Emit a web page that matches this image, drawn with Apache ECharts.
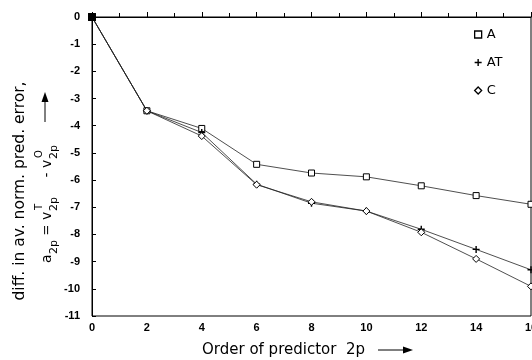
<!DOCTYPE html>
<html><head><meta charset="utf-8">
<script src="https://cdn.jsdelivr.net/npm/echarts@6/dist/echarts.min.js"></script>
<style>html,body{margin:0;padding:0;background:#fff}#c{width:532px;height:360px}</style>
</head><body><div id="c"></div>
<script>
var orders = [0, 2, 4, 6, 8, 10, 12, 14, 16];
var seriesA  = [0, -3.45, -4.10, -5.42, -5.74, -5.88, -6.21, -6.57, -6.89];
var seriesAT = [0, -3.45, -4.25, -6.15, -6.85, -7.14, -7.81, -8.55, -9.30];
var seriesC  = [0, -3.45, -4.38, -6.17, -6.80, -7.14, -7.92, -8.90, -9.91];
var names = ['A', 'AT', 'C'];
var xTicks = [0, 2, 4, 6, 8, 10, 12, 14, 16];
var yTicks = [0, -1, -2, -3, -4, -5, -6, -7, -8, -9, -10, -11];

var plusPath = 'path://M4,0H6V4H10V6H6V10H4V6H0V4H4Z';
function pts(vals) {
  return orders.map(function (o, i) {
    var p = {value: [o, vals[i]]};
    if (i === 0) { p.symbol = 'rect'; p.symbolSize = 7; p.itemStyle = {color: '#000', borderColor: '#000'}; }
    return p;
  });
}
var lineStyle = {color: '#222', width: 0.8};
var chart = echarts.init(document.getElementById('c'), null, {renderer: 'canvas'});
var F = '"DejaVu Sans", "Liberation Sans", sans-serif';
var tickFont = {color: '#000', fontSize: 11, fontWeight: 'bold', fontFamily: '"Liberation Sans", Arial, sans-serif'};

var yTitle = {
  type: 'group', x: 0, y: 360, rotation: Math.PI / 2, silent: true,
  children: [
    {type: 'text', x: 169, y: 20, style: {text: 'diff. in av. norm. pred. error,', font: '15.5px ' + F, fill: '#000', align: 'center', verticalAlign: 'middle'}},
    {type: 'text', x: 97, y: 47, style: {text: 'a', font: '14px ' + F, fill: '#000', align: 'left', verticalAlign: 'middle'}},
    {type: 'text', x: 106, y: 54, style: {text: '2p', font: '11px ' + F, fill: '#000', align: 'left', verticalAlign: 'middle'}},
    {type: 'text', x: 130, y: 47, style: {text: '=', font: '13px ' + F, fill: '#000', align: 'center', verticalAlign: 'middle'}},
    {type: 'text', x: 140, y: 47, style: {text: 'v', font: '14px ' + F, fill: '#000', align: 'left', verticalAlign: 'middle'}},
    {type: 'text', x: 150, y: 39, style: {text: 'T', font: '10px ' + F, fill: '#000', align: 'left', verticalAlign: 'middle'}},
    {type: 'text', x: 149, y: 54, style: {text: '2p', font: '11px ' + F, fill: '#000', align: 'left', verticalAlign: 'middle'}},
    {type: 'text', x: 185, y: 47, style: {text: '-', font: '14px ' + F, fill: '#000', align: 'center', verticalAlign: 'middle'}},
    {type: 'text', x: 192, y: 47, style: {text: 'v', font: '14px ' + F, fill: '#000', align: 'left', verticalAlign: 'middle'}},
    {type: 'text', x: 202, y: 39, style: {text: 'O', font: '10px ' + F, fill: '#000', align: 'left', verticalAlign: 'middle'}},
    {type: 'text', x: 201, y: 54, style: {text: '2p', font: '11px ' + F, fill: '#000', align: 'left', verticalAlign: 'middle'}},
    {type: 'line', shape: {x1: 238, y1: 45, x2: 261, y2: 45}, style: {stroke: '#000', lineWidth: 1}},
    {type: 'polygon', shape: {points: [[268, 45], [258, 41.5], [258, 48.5]]}, style: {fill: '#000'}}
  ]
};
var xTitle = [
  {type: 'text', x: 202, y: 350, silent: true, style: {text: 'Order of predictor  2p', font: '15px ' + F, fill: '#000', align: 'left', verticalAlign: 'middle'}},
  {type: 'line', silent: true, shape: {x1: 378, y1: 350, x2: 405, y2: 350}, style: {stroke: '#000', lineWidth: 1}},
  {type: 'polygon', silent: true, shape: {points: [[413, 350], [403, 346.5], [403, 353.5]]}, style: {fill: '#000'}}
];

chart.setOption({
  animation: false,
  backgroundColor: '#fff',
  grid: {left: 92, right: 1, top: 17, bottom: 44, show: true, borderColor: '#000', borderWidth: 1,
         containLabel: false, outerBoundsMode: 'none'},
  legend: {
    orient: 'vertical', left: 469, top: 23, itemGap: 15, itemWidth: 7, itemHeight: 7,
    textStyle: {color: '#000', fontSize: 13, fontFamily: F},
    data: [
      {name: names[0], icon: 'rect', itemStyle: {color: '#fff', borderColor: '#000', borderWidth: 1.3}},
      {name: names[1], icon: plusPath, itemStyle: {color: '#000', borderWidth: 0}},
      {name: names[2], icon: 'diamond', itemStyle: {color: '#fff', borderColor: '#000', borderWidth: 1.3}}
    ]
  },
  xAxis: {
    type: 'value', min: 0, max: 16, interval: 2,
    axisLine: {lineStyle: {color: '#000', width: 1}},
    axisTick: {show: true, inside: true, length: 5, lineStyle: {color: '#000'}},
    minorTick: {show: true, splitNumber: 2, length: 4, lineStyle: {color: '#000'}},
    splitLine: {show: false},
    axisLabel: Object.assign({margin: 6, hideOverlap: false, formatter: function (v) { return xTicks.indexOf(v) >= 0 ? String(v) : ''; }}, tickFont)
  },
  yAxis: {
    type: 'value', min: -11, max: 0, interval: 1,
    axisLine: {lineStyle: {color: '#000', width: 1}},
    axisTick: {show: true, inside: true, length: 4, lineStyle: {color: '#000'}},
    splitLine: {show: false},
    axisLabel: Object.assign({margin: 12, formatter: function (v) { return yTicks.indexOf(v) >= 0 ? String(v) : ''; }}, tickFont)
  },
  series: [
    {name: names[0], type: 'line', data: pts(seriesA), symbol: 'rect', symbolSize: 6,
     itemStyle: {color: '#fff', borderColor: '#000', borderWidth: 1}, lineStyle: lineStyle},
    {name: names[1], type: 'line', data: pts(seriesAT), symbol: plusPath, symbolSize: 7,
     itemStyle: {color: '#000', borderWidth: 0}, lineStyle: lineStyle},
    {name: names[2], type: 'line', data: pts(seriesC), symbol: 'diamond', symbolSize: 7,
     itemStyle: {color: '#fff', borderColor: '#000', borderWidth: 1}, lineStyle: lineStyle}
  ],
  graphic: [yTitle].concat(xTitle)
});
</script></body></html>
